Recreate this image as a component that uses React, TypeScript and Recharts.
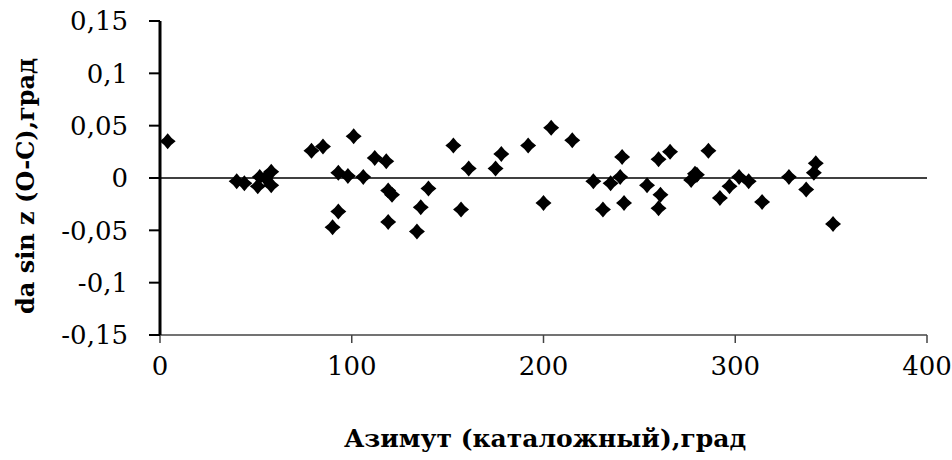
import { ReferenceLine, Scatter, ScatterChart, XAxis, YAxis, Label } from 'recharts';

const azimuth = [
  4, 40, 44, 51, 52, 55, 58, 58, 79, 85, 93, 98, 101, 106, 93, 90, 112, 118, 119, 121, 119, 134, 136, 140,
  153, 157, 161, 175, 178, 192, 204, 215, 200, 226, 231, 235, 240, 241, 242, 254, 260, 266, 261, 260, 277,
  279, 280, 286, 292, 297, 302, 307, 314, 328, 337, 342, 341, 351,
];
const residual = [
  0.035, -0.003, -0.005, -0.008, 0.001, 0.0, 0.006, -0.007, 0.026, 0.03, 0.005, 0.002, 0.04, 0.001, -0.032,
  -0.047, 0.019, 0.016, -0.012, -0.016, -0.042, -0.051, -0.028, -0.01, 0.031, -0.03, 0.009, 0.009, 0.023,
  0.031, 0.048, 0.036, -0.024, -0.003, -0.03, -0.005, 0.001, 0.02, -0.024, -0.007, 0.018, 0.025, -0.016,
  -0.029, -0.002, 0.004, 0.003, 0.026, -0.019, -0.008, 0.001, -0.003, -0.023, 0.001, -0.011, 0.014, 0.005,
  -0.044,
];
const xTicks = [0, 100, 200, 300, 400];
const yTicks = [-0.15, -0.1, -0.05, 0, 0.05, 0.1, 0.15];

const points = azimuth.map((a, i) => ({ az: a, v: residual[i] }));

const serif = "'DejaVu Serif', serif";

// excel-like diamond, slightly pinched sides
const Diamond = (props: any) => {
  const { cx, cy } = props;
  const r = 8;
  const k = 3.3;
  const d = `M${cx},${cy - r} Q${cx + k},${cy - k} ${cx + r},${cy} Q${cx + k},${cy + k} ${cx},${cy + r} Q${cx - k},${cy + k} ${cx - r},${cy} Q${cx - k},${cy - k} ${cx},${cy - r}Z`;
  return <path d={d} fill="#000" />;
};

const fmt = (v: number) => String(v).replace('.', ',');

export default function App() {
  return (
    <div style={{ position: 'absolute', left: 0, top: 0, background: '#fff' }}>
      <ScatterChart
        width={952}
        height={460}
        margin={{ top: 21, right: 25, bottom: 0, left: 0 }}
        style={{ fontFamily: serif }}
      >
        <XAxis
          type="number"
          dataKey="az"
          domain={[0, 400]}
          ticks={xTicks}
          height={125}
          tickSize={8}
          tickMargin={14}
          axisLine={{ stroke: '#444', strokeWidth: 1.5 }}
          tickLine={{ stroke: '#444', strokeWidth: 1.5 }}
          tick={{ fill: '#000', fontSize: 26, style: { fontFamily: serif } }}
        >
          <Label
            content={() => (
              <text
                x={545}
                y={447}
                textAnchor="middle"
                style={{ fontFamily: serif, fontWeight: 'bold', fontSize: 25 }}
                fill="#000"
              >
                Азимут (каталожный),град
              </text>
            )}
          />
        </XAxis>
        <YAxis
          type="number"
          dataKey="v"
          domain={[-0.15, 0.15]}
          ticks={yTicks}
          width={160}
          tickSize={11}
          tickMargin={21}
          tickFormatter={fmt}
          axisLine={{ stroke: '#000', strokeWidth: 3 }}
          tickLine={{ stroke: '#000', strokeWidth: 2 }}
          tick={{ fill: '#000', fontSize: 26, style: { fontFamily: serif } }}
        >
          <Label
            content={() => (
              <text
                x={25}
                y={186}
                transform="rotate(-90 25 186)"
                textAnchor="middle"
                dominantBaseline="central"
                style={{ fontFamily: serif, fontWeight: 'bold', fontSize: 24 }}
                fill="#000"
              >
                da sin z (O-C),град
              </text>
            )}
          />
        </YAxis>
        <ReferenceLine y={0} stroke="#000" strokeWidth={1.5} />
        <Scatter data={points} shape={Diamond} isAnimationActive={false} />
      </ScatterChart>
    </div>
  );
}
